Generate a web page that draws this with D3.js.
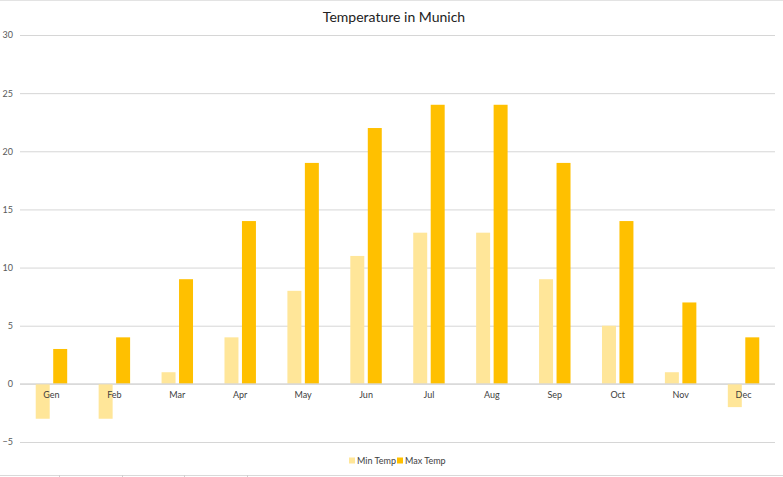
<!DOCTYPE html>
<html>
<head>
<meta charset="utf-8">
<script src="https://cdn.jsdelivr.net/npm/d3@7"></script>
<style>
  body { margin: 0; background: #fff; }
  text { font-family: Lato, "Open Sans", sans-serif; }
</style>
</head>
<body>
<svg id="viz"></svg>
<script>
// Chart data
const months = ["Gen", "Feb", "Mar", "Apr", "May", "Jun", "Jul", "Aug", "Sep", "Oct", "Nov", "Dec"];
const minTemp = [-3, -3, 1, 4, 8, 11, 13, 13, 9, 5, 1, -2];
const maxTemp = [3, 4, 9, 14, 19, 22, 24, 24, 19, 14, 7, 4];
const seriesNames = ["Min Temp", "Max Temp"];
const yTicks = [-5, 0, 5, 10, 15, 20, 25, 30];

const width = 783, height = 477;
const colors = {"Min Temp": "#FFE699", "Max Temp": "#FFC000"};

const svg = d3.select("#viz")
    .attr("width", width)
    .attr("height", height);

// frame lines of the cropped screenshot (top and bottom)
svg.append("line")
    .attr("x1", 0).attr("x2", width).attr("y1", 0.5).attr("y2", 0.5)
    .attr("stroke", "#e3e3e3");
svg.append("line")
    .attr("x1", 0).attr("x2", width).attr("y1", 475.5).attr("y2", 475.5)
    .attr("stroke", "#d9d9d9");
[59, 122, 184, 247].forEach(function(x) {
    svg.append("line")
        .attr("x1", x + 0.5).attr("x2", x + 0.5).attr("y1", 475).attr("y2", 477)
        .attr("stroke", "#cfcfcf");
});

// scales
const x = d3.scaleBand()
    .domain(months)
    .range([20, 775])
    .paddingInner(0.5)
    .paddingOuter(0.25);

const xInner = d3.scaleBand()
    .domain(seriesNames)
    .range([0, x.bandwidth()])
    .paddingInner(0.2);

const y = d3.scaleLinear()
    .domain([-5, 30])
    .range([442, 35]);

// title
svg.append("text")
    .attr("x", 394)
    .attr("y", 22)
    .attr("text-anchor", "middle")
    .attr("font-size", "14px")
    .attr("fill", "#222")
    .text("Temperature in Munich");

// gridlines + y labels
const yAxis = d3.axisLeft(y)
    .tickValues(yTicks)
    .tickSize(-(775 - 20))
    .tickPadding(7)
    .tickFormat(d3.format("d"));

const gy = svg.append("g")
    .attr("transform", "translate(20,0)")
    .call(yAxis);
gy.select(".domain").remove();
gy.selectAll(".tick line").attr("stroke", "#d6d6d6");
gy.selectAll(".tick text")
    .attr("font-size", "9px")
    .attr("fill", "#595959")
    .attr("font-family", "Lato, 'Open Sans', sans-serif");

// bars
const rows = months.map(function(m, i) {
    return {month: m, values: [
        {name: "Min Temp", value: minTemp[i]},
        {name: "Max Temp", value: maxTemp[i]}
    ]};
});

const groups = svg.append("g").selectAll("g")
    .data(rows)
    .enter().append("g")
    .attr("transform", function(d) { return "translate(" + x(d.month) + ",0)"; });

groups.selectAll("rect")
    .data(function(d) { return d.values; })
    .enter().append("rect")
    .attr("x", function(d) { return xInner(d.name); })
    .attr("width", xInner.bandwidth())
    .attr("y", function(d) { return y(Math.max(0, d.value)); })
    .attr("height", function(d) { return Math.abs(y(d.value) - y(0)); })
    .attr("fill", function(d) { return colors[d.name]; });

// category labels sit just under the zero line
const gx = svg.append("g")
    .attr("transform", "translate(0," + y(0) + ")")
    .call(d3.axisBottom(x).tickSize(0).tickPadding(8));
gx.select(".domain")
    .attr("stroke", "#d6d6d6")
    .attr("d", "M20,0H775");
gx.selectAll(".tick text")
    .attr("font-size", "9px")
    .attr("fill", "#404040")
    .attr("font-family", "Lato, 'Open Sans', sans-serif");

// legend
const legend = svg.append("g")
    .attr("transform", "translate(349,461)");
const items = legend.selectAll("g")
    .data(seriesNames)
    .enter().append("g")
    .attr("transform", function(d, i) { return "translate(" + (i * 48) + ",0)"; });
items.append("rect")
    .attr("x", 0).attr("y", -3.5)
    .attr("width", 6).attr("height", 6)
    .attr("fill", function(d) { return colors[d]; });
items.append("text")
    .attr("x", 8)
    .attr("y", 3)
    .attr("font-size", "9px")
    .attr("fill", "#404040")
    .text(function(d) { return d; });
</script>
</body>
</html>
